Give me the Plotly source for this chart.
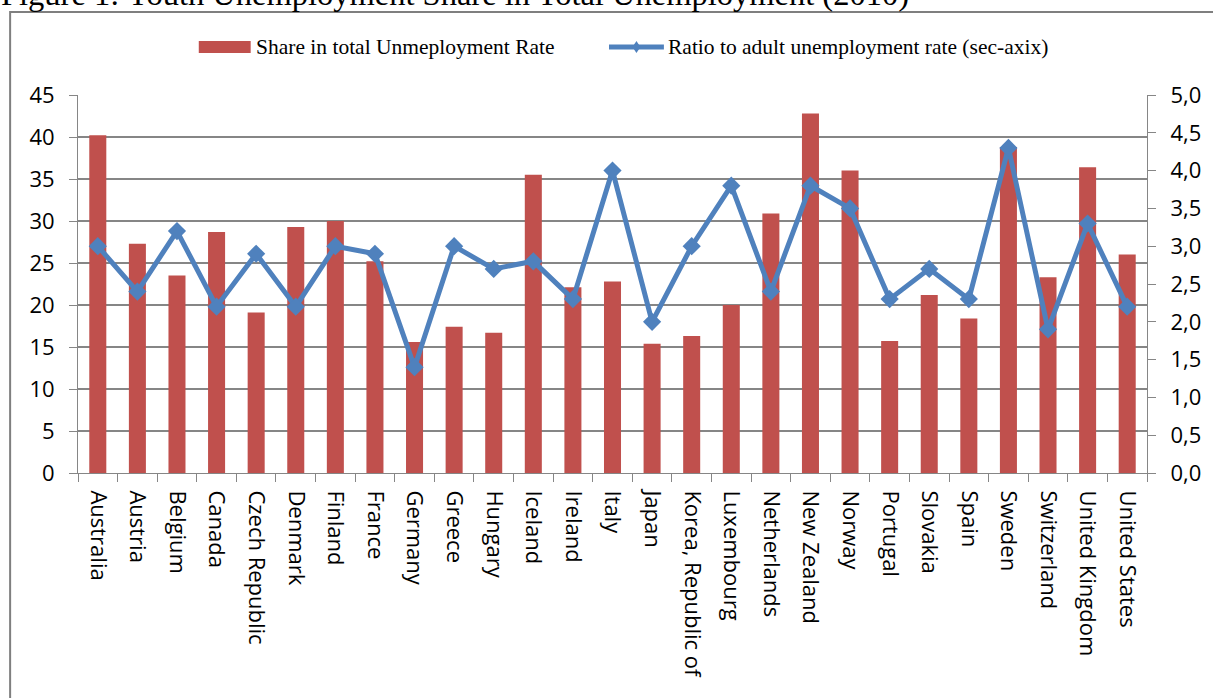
import plotly.graph_objects as go

countries = ["Australia", "Austria", "Belgium", "Canada", "Czech Republic", "Denmark",
             "Finland", "France", "Germany", "Greece", "Hungary", "Iceland", "Ireland",
             "Italy", "Japan", "Korea, Republic of", "Luxembourg", "Netherlands",
             "New Zealand", "Norway", "Portugal", "Slovakia", "Spain", "Sweden",
             "Switzerland", "United Kingdom", "United States"]
share = [40.2, 27.3, 23.5, 28.7, 19.1, 29.3, 30.0, 25.2, 15.6, 17.4, 16.7, 35.5, 22.1,
         22.8, 15.4, 16.3, 20.0, 30.9, 42.8, 36.0, 15.7, 21.2, 18.4, 38.8, 23.3, 36.4, 26.0]
ratio = [3.0, 2.4, 3.2, 2.2, 2.9, 2.2, 3.0, 2.9, 1.4, 3.0, 2.7, 2.8, 2.3, 4.0, 2.0,
         3.0, 3.8, 2.4, 3.8, 3.5, 2.3, 2.7, 2.3, 4.3, 1.9, 3.3, 2.2]
left_ticks = list(range(0, 46, 5))
right_ticks = [0, 0.5, 1, 1.5, 2, 2.5, 3, 3.5, 4, 4.5, 5]
right_labels = [f"{v:.1f}".replace(".", ",") for v in right_ticks]
bar_name = "Share in total Unmeployment Rate"
line_name = "Ratio to adult unemployment rate (sec-axix)"
title_text = "Figure 1: Youth Unemployment Share in Total Unemployment (2010)"

W, H = 1213, 698
L, R, T, B = 78, 64, 95, 225
pw, ph = W - L - R, H - T - B


def px(x):
    return (x - L) / pw


def py(y):
    return (H - B - y) / ph


grid = "#868686"
red = "#C0504D"
blue = "#4F81BD"
sans = "Open Sans, Lato, sans-serif"
serif = "Liberation Serif, Times New Roman, serif"
tickfont = dict(family=sans, size=22, color="#000000")

fig = go.Figure()
fig.add_trace(go.Bar(x=countries, y=share, name=bar_name, showlegend=False,
                     marker=dict(color=red, line=dict(width=0)), yaxis="y"))
fig.add_trace(go.Scatter(x=countries, y=ratio, name=line_name, showlegend=False,
                         mode="lines+markers", yaxis="y2",
                         line=dict(color=blue, width=5),
                         marker=dict(symbol="diamond", size=14, color=blue)))

fig.update_layout(
    width=W, height=H,
    margin=dict(l=L, r=R, t=T, b=B),
    paper_bgcolor="white", plot_bgcolor="white",
    bargap=0.57,
    showlegend=False,
    xaxis=dict(type="category", tickangle=90, ticks="outside", ticklen=8, tickcolor=grid,
               tickson="boundaries", showline=True, linecolor=grid, linewidth=1,
               showgrid=False, ticklabelstandoff=12,
               tickfont=dict(family=sans, size=22, color="#000"),
               range=[-0.5, len(countries) - 0.5]),
    yaxis=dict(range=[0, 45], tickvals=left_ticks, ticks="outside", ticklen=8,
               tickcolor=grid, showline=True, linecolor=grid, showgrid=True, gridcolor=grid,
               gridwidth=1.5, tickfont=tickfont, zeroline=False, ticklabelstandoff=10),
    yaxis2=dict(range=[0, 5], overlaying="y", side="right", tickvals=right_ticks,
                ticktext=right_labels, ticks="outside", ticklen=8, tickcolor=grid,
                showline=True, linecolor=grid, showgrid=False, tickfont=tickfont,
                zeroline=False, ticklabelstandoff=10),
)

# chart border
fig.add_shape(type="rect", xref="paper", yref="paper", x0=px(10), y0=py(12), x1=px(1240), y1=py(730),
              line=dict(color="#7f7f7f", width=2), layer="below")

# legend (drawn to match the original's wide swatches)
fig.add_shape(type="rect", xref="paper", yref="paper", x0=px(199), x1=px(251), y0=py(41), y1=py(53),
              fillcolor=red, line=dict(width=0))
fig.add_annotation(xref="paper", yref="paper", x=px(254), y=py(47), xanchor="left", yanchor="middle",
                   text=bar_name, showarrow=False, font=dict(family=serif, size=21.5, color="#000"))
fig.add_shape(type="line", xref="paper", yref="paper", x0=px(610), x1=px(665), y0=py(47), y1=py(47),
              line=dict(color=blue, width=5))
fig.add_shape(type="path", xref="paper", yref="paper",
              path=f"M {px(637.5)} {py(41)} L {px(641.5)} {py(47)} L {px(637.5)} {py(53)} L {px(633.5)} {py(47)} Z",
              fillcolor=blue, line=dict(width=0))
fig.add_annotation(xref="paper", yref="paper", x=px(667), y=py(47), xanchor="left", yanchor="middle",
                   text=line_name, showarrow=False, font=dict(family=serif, size=21.5, color="#000"))

# figure caption (partially cut at top of page, as in the original)
fig.add_annotation(xref="paper", yref="paper", x=px(-1), y=py(14), xanchor="left", yanchor="bottom",
                   text=title_text, showarrow=False,
                   font=dict(family=serif, size=32.5, color="#000"))

fig.write_html("out.html")
